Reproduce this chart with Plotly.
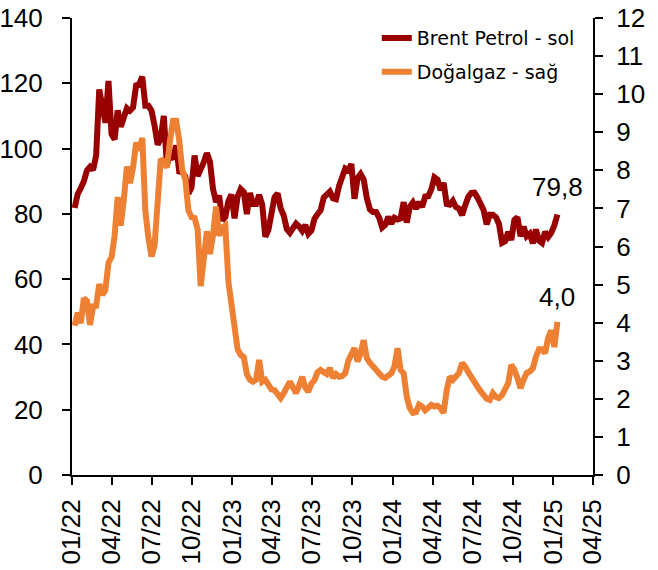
import pandas as pd
import plotly.graph_objects as go

# Weekly dates (Fridays) from Jan 2022 to Jan 2025
dates = pd.date_range("2022-01-07", "2025-01-10", freq="W-FRI")

brent = [
    # 2022
    81.8, 86.1, 87.9, 90.0, 93.3, 94.4, 93.5, 97.9, 118.1, 112.7, 107.9, 120.7, 104.4,
    102.8, 111.7, 106.7, 109.3, 112.4, 111.6, 112.6, 119.4, 119.7, 122.0, 113.1, 113.1,
    111.6, 107.0, 101.2, 103.2, 110.0, 94.9, 98.2, 96.7, 101.0, 93.0, 92.8, 91.4, 86.2,
    88.0, 97.9, 91.6, 93.5, 95.8, 98.6, 96.0, 87.6, 83.6, 85.6, 78.0, 79.0, 83.9, 85.9,
    # 2023
    78.6, 85.3, 87.6, 86.7, 79.9, 86.4, 83.0, 83.0, 85.8, 82.8, 73.0, 75.0, 79.8, 85.1,
    86.3, 81.7, 79.5, 75.3, 74.2, 75.6, 77.0, 76.1, 74.8, 76.6, 73.9, 74.9, 78.5, 79.9,
    81.1, 85.0, 86.2, 86.8, 84.8, 84.5, 88.6, 90.7, 93.9, 93.3, 95.3, 84.6, 90.9, 92.2,
    90.5, 84.9, 81.4, 80.6, 80.6, 78.9, 75.8, 76.6, 79.1, 77.0,
    # 2024
    78.8, 78.3, 78.6, 83.6, 77.3, 82.2, 83.5, 81.6, 83.6, 82.1, 85.3, 85.4, 87.5, 91.2,
    90.5, 87.3, 89.5, 83.0, 82.8, 84.0, 82.1, 81.6, 79.6, 82.6, 85.2, 86.4, 86.5, 85.0,
    82.6, 81.1, 76.8, 79.7, 79.7, 79.0, 76.9, 71.1, 71.6, 74.5, 72.0, 78.1, 79.0, 73.1,
    76.1, 73.1, 73.9, 71.0, 75.2, 71.8, 71.1, 74.5, 72.9, 74.2,
    # 2025
    76.5, 79.8,
]

gas = [
    # 2022
    3.92, 4.26, 3.99, 4.64, 4.57, 3.94, 4.43, 4.44, 5.01, 4.73, 4.86, 5.57, 5.72,
    6.28, 7.30, 6.55, 7.24, 8.10, 7.66, 8.08, 8.73, 8.52, 8.85, 6.93, 6.22,
    5.74, 6.03, 7.00, 8.30, 8.23, 8.07, 8.77, 9.30, 9.30, 8.80, 8.00, 7.76, 6.95,
    6.77, 6.75, 6.45, 4.96, 5.68, 6.40, 5.80, 6.30, 7.05, 6.28, 6.50, 6.55, 5.08, 4.48,
    # 2023
    3.70, 3.30, 3.15, 3.10, 2.65, 2.50, 2.45, 2.50, 3.02, 2.45, 2.50, 2.35, 2.25,
    2.23, 2.10, 2.02, 2.15, 2.30, 2.45, 2.30, 2.15, 2.35, 2.58, 2.30, 2.19, 2.40,
    2.49, 2.70, 2.76, 2.70, 2.65, 2.81, 2.55, 2.65, 2.58, 2.60, 2.67, 3.00, 3.20,
    3.33, 2.98, 3.20, 3.54, 3.07, 2.95, 2.85, 2.80, 2.70, 2.58, 2.55, 2.62, 2.67,
    # 2024
    2.85, 3.33, 2.76, 2.67, 2.06, 1.75, 1.63, 1.65, 1.85, 1.80, 1.70, 1.80, 1.84,
    1.80, 1.82, 1.75, 1.63, 2.23, 2.58, 2.50, 2.60, 2.68, 2.94, 2.85, 2.70, 2.55,
    2.45, 2.32, 2.20, 2.10, 2.00, 1.97, 2.15, 2.05, 2.02, 2.10, 2.28, 2.41, 2.89,
    2.76, 2.55, 2.28, 2.50, 2.68, 2.72, 2.80, 3.10, 3.30, 3.30, 3.20, 3.60, 3.80,
    # 2025
    3.36, 4.02,
]

tick_dates = pd.date_range("2022-01-01", "2025-04-01", freq="QS")
tick_labels = [d.strftime("%m/%y") for d in tick_dates]

BRENT_NAME = "Brent Petrol - sol"
GAS_NAME = "Doğalgaz - sağ"

FONT = "Liberation Sans"
LEG_FONT = "DejaVu Sans"

fig = go.Figure()
fig.add_trace(go.Scatter(x=dates, y=brent, name=BRENT_NAME, mode="lines",
                         line=dict(color="#990000", width=6), yaxis="y",
                         legend="legend"))
fig.add_trace(go.Scatter(x=dates, y=gas, name=GAS_NAME, mode="lines",
                         line=dict(color="#EE8033", width=6), yaxis="y2",
                         legend="legend2"))

fmt = lambda v: f"{v:.1f}".replace(".", ",")
fig.add_annotation(x=dates[-1], y=brent[-1], yref="y", text=fmt(brent[-1]),
                   showarrow=False, yshift=28, xshift=0,
                   font=dict(size=26, color="black", family=FONT))
fig.add_annotation(x=dates[-1], y=gas[-1], yref="y2", text=fmt(gas[-1]),
                   showarrow=False, yshift=25, xshift=0,
                   font=dict(size=26, color="black", family=FONT))

axis_font = dict(family=FONT, size=26, color="black")
legend_common = dict(xanchor="left", yanchor="middle", bgcolor="rgba(0,0,0,0)",
                     font=dict(family=LEG_FONT, size=19, color="black"))
fig.update_layout(
    width=658, height=570,
    margin=dict(l=72, r=65, t=18, b=95, autoexpand=False),
    paper_bgcolor="white", plot_bgcolor="white",
    showlegend=True,
    legend=dict(x=0.585, y=0.956, **legend_common),
    legend2=dict(x=0.585, y=0.882, **legend_common),
    xaxis=dict(range=["2022-01-01", "2025-04-01"], tickvals=tick_dates, ticktext=tick_labels,
               tickangle=-90, ticks="outside", ticklen=8, tickwidth=1.5, tickcolor="black",
               showline=True, linecolor="black", linewidth=2, showgrid=False, zeroline=False,
               tickfont=axis_font, automargin=False, ticklabelstandoff=4),
    yaxis=dict(range=[0, 140], dtick=20, ticks="outside", ticklen=8, tickwidth=1.5,
               tickcolor="black", showline=True, linecolor="black", linewidth=2,
               showgrid=False, zeroline=False, tickfont=axis_font, automargin=False,
               ticklabelstandoff=14),
    yaxis2=dict(range=[0, 12], dtick=1, overlaying="y", side="right", ticks="outside",
                ticklen=8, tickwidth=1.5, tickcolor="black", showline=True,
                linecolor="black", linewidth=2, showgrid=False, zeroline=False,
                tickfont=axis_font, automargin=False, ticklabelstandoff=8),
)

fig.write_html("out.html", config={"displayModeBar": False},
               post_script="document.body.style.margin='0';")
